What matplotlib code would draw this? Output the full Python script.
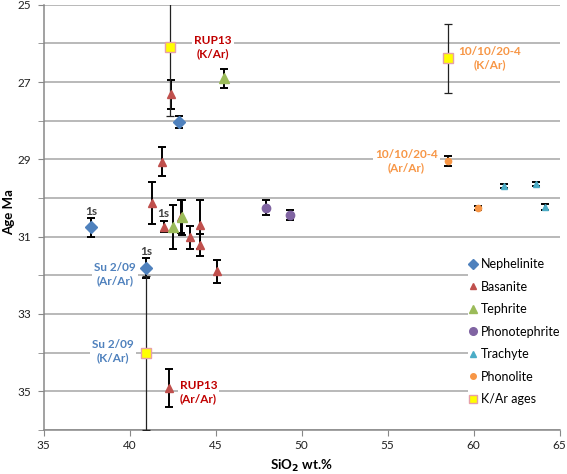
import matplotlib
matplotlib.use('Agg')
import matplotlib.pyplot as plt
from matplotlib.lines import Line2D

plt.rcParams['font.family'] = ['Lato', 'DejaVu Sans']

# Nephelinite
neph_x = [37.73, 42.87, 40.97]
neph_y = [30.76, 28.04, 31.81]
neph_err = [0.25, 0.16, 0.25]
# Basanite
bas_x = [42.38, 41.86, 41.30, 41.98, 42.98, 43.49, 44.09, 44.09, 45.09, 42.30]
bas_y = [27.32, 29.06, 30.13, 30.74, 30.48, 31.02, 30.69, 31.21, 31.90, 34.92]
bas_err = [0.38, 0.37, 0.54, 0.15, 0.42, 0.30, 0.64, 0.28, 0.29, 0.50]
# Tephrite
teph_x = [45.47, 42.53, 43.06]
teph_y = [26.90, 30.75, 30.50]
teph_err = [0.25, 0.57, 0.45]
# Phonotephrite
phte_x = [47.90, 49.30]
phte_y = [30.25, 30.44]
phte_err = [0.20, 0.12]
# Trachyte
trach_x = [61.74, 63.64, 64.13]
trach_y = [29.68, 29.64, 30.23]
trach_err = [0.05, 0.05, 0.08]
# Phonolite
phon_x = [58.52, 60.23]
phon_y = [29.04, 30.25]
phon_err = [0.12, 0.05]
# K/Ar ages
kar_x = [42.33, 58.52, 40.97]
kar_y = [26.09, 26.39, 34.01]
kar_err = [1.8, 0.9, 2.0]

# labels: (text, x, y, colour)
labels = [
    ('RUP13\n(K/Ar)', 44.85, 26.09, '#C00000'),
    ('RUP13\n(Ar/Ar)', 44.0, 35.03, '#C00000'),
    ('10/10/20-4\n(K/Ar)', 60.95, 26.38, '#F79646'),
    ('10/10/20-4\n(Ar/Ar)', 56.08, 29.04, '#F79646'),
    ('Su 2/09\n(Ar/Ar)', 39.15, 31.96, '#4F81BD'),
    ('Su 2/09\n(K/Ar)', 39.05, 33.97, '#4F81BD'),
]
one_s = [(37.75, 30.36), (41.95, 30.39), (40.99, 31.38)]

fig = plt.figure(figsize=(5.67, 4.74), dpi=100)
ax = fig.add_axes([0.077, 0.093, 0.910, 0.897])

groups = [
    ('Nephelinite', neph_x, neph_y, neph_err, 'D', '#4F81BD', 6.0, 5.0),
    ('Basanite', bas_x, bas_y, bas_err, '^', '#C0504D', 6.0, 5.0),
    ('Tephrite', teph_x, teph_y, teph_err, '^', '#9BBB59', 6.5, 5.5),
    ('Phonotephrite', phte_x, phte_y, phte_err, 'o', '#8064A2', 6.0, 5.5),
    ('Trachyte', trach_x, trach_y, trach_err, '^', '#4BACC6', 4.5, 4.0),
    ('Phonolite', phon_x, phon_y, phon_err, 'o', '#F79646', 4.5, 4.0),
]

handles = []
for name, x, y, err, m, c, ms, lms in groups:
    ax.errorbar(x, y, yerr=err, fmt='none', ecolor='black', elinewidth=1.4,
                capsize=2.8, capthick=1.4, zorder=3)
    ax.plot(x, y, linestyle='none', marker=m, color=c, markersize=ms, zorder=4)
    handles.append(Line2D([], [], linestyle='none', marker=m, color=c,
                          markersize=lms, label=name))

ax.errorbar(kar_x, kar_y, yerr=kar_err, fmt='none', ecolor='#222222',
            elinewidth=0.9, capsize=3, capthick=0.9, zorder=3)
ax.plot(kar_x, kar_y, linestyle='none', marker='s', markersize=7,
        markerfacecolor='#FFFF00', markeredgecolor='#E6A0A8', markeredgewidth=1, zorder=4)
handles.append(Line2D([], [], linestyle='none', marker='s', markersize=6,
                      markerfacecolor='#FFFF00', markeredgecolor='#E6A0A8', label='K/Ar ages'))

for txt, x, y, c in labels:
    ax.text(x, y, txt, color=c, fontsize=8.5, fontweight='bold', ha='center', va='center',
            linespacing=1.25, zorder=5,
            bbox=dict(facecolor='white', edgecolor='none', pad=1.5))
for x, y in one_s:
    ax.text(x, y, '1s', color='#404040', fontsize=8.5, fontweight='bold',
            ha='center', va='center', zorder=5)

ax.set_xlim(35, 65)
ax.set_ylim(36, 25)
ax.set_xticks([35, 40, 45, 50, 55, 60, 65])
ax.set_yticks([25, 27, 29, 31, 33, 35])
ax.set_yticks([26, 28, 30, 32, 34, 36], minor=True)
ax.grid(True, which='both', axis='y', color='#A6A6A6', linewidth=1.1, zorder=0)
ax.set_axisbelow(True)
for s in ['top', 'right']:
    ax.spines[s].set_visible(False)
for s in ['left', 'bottom']:
    ax.spines[s].set_color('#888888')
    ax.spines[s].set_linewidth(1.1)
ax.tick_params(axis='both', which='both', direction='out', length=4, color='#888888',
               labelsize=8.5, labelcolor='#222222')
ax.tick_params(axis='y', which='both', pad=5)

ax.set_ylabel('Age Ma', fontsize=9.5, fontweight='bold')
ax.yaxis.set_label_coords(-0.056, 0.513)
ax.set_xlabel('SiO$_\\mathbf{2}$ wt.%', fontsize=9.5, fontweight='bold', labelpad=5)

leg = ax.legend(handles=handles, loc='upper left', bbox_to_anchor=(0.822, 0.41),
                frameon=True, fontsize=9, labelspacing=0.84, handlelength=0.5,
                handletextpad=0.35, borderpad=0.2, borderaxespad=0)
leg.get_frame().set_facecolor('white')
leg.get_frame().set_edgecolor('none')
leg.get_frame().set_alpha(1)

fig.savefig('out.png', dpi=100)
